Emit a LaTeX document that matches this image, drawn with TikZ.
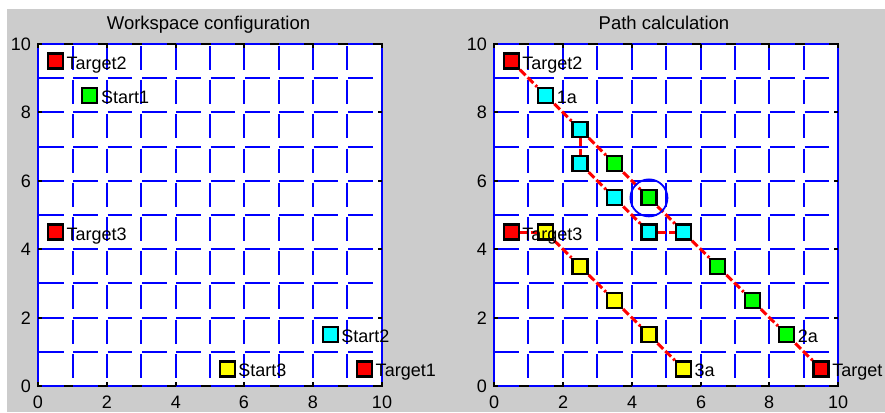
\documentclass[tikz,border=0pt]{standalone}
\usepackage{fontspec}
\setmainfont{Liberation Sans}
\definecolor{figgray}{RGB}{204,204,204}
\definecolor{mred}{RGB}{255,0,0}
\definecolor{mgreen}{RGB}{0,255,0}
\definecolor{mcyan}{RGB}{0,255,255}
\definecolor{myellow}{RGB}{255,255,0}
\definecolor{mblue}{RGB}{0,0,255}
\tikzset{
  gridline/.style={mblue, line width=2pt},
  boxline/.style={black, line width=2pt},
  ticklab/.style={inner sep=0pt, font=\fontsize{18}{20}\selectfont},
  mk/.style={rectangle, draw=black, line width=2.2pt, minimum size=15pt, inner sep=0pt},
  lab/.style={inner sep=0pt, anchor=base west, font=\fontsize{18}{20}\selectfont},
  route/.style={mred, line width=3pt, dash pattern=on 8pt off 3pt},
  ttl/.style={inner sep=0pt, anchor=base, font=\fontsize{18.5}{20}\selectfont},
}
% #1 prefix, #2 x0, #3 y0, #4 x unit, #5 y unit (all in pt, picture units)
\newcommand\plotframe[5]{%
  \pgfmathsetmacro\fxa{round(#2)}\pgfmathsetmacro\fxb{round(#2+10*#4)}%
  \pgfmathsetmacro\fya{round(#3)}\pgfmathsetmacro\fyb{round(#3+10*#5)}%
  \fill[white] (\fxa,\fya) rectangle (\fxb,\fyb);
  \draw[boxline] (\fxa,\fya) rectangle (\fxb,\fyb);
  \foreach \j in {0,...,10}{
    \pgfmathsetmacro\gy{round(#3+#5*\j)}
    \foreach \i in {0,...,9}{
      \draw[gridline] ({#2+#4*(\i+0.02)},\gy) -- ({#2+#4*(\i+0.74)},\gy);
    }
  }
  \foreach \i in {1,...,9}{
    \pgfmathsetmacro\gx{round(#2+#4*\i)}
    \foreach \j in {0,...,9}{
      \draw[gridline] (\gx,{#3+#5*(\j+0.94)}) -- (\gx,{#3+#5*(\j+0.24)});
    }
  }
  \draw[gridline] (\fxa,\fya) -- (\fxa,\fyb) (\fxb,\fya) -- (\fxb,\fyb);
  \foreach \v in {0,2,...,10}{
    \pgfmathsetmacro\gx{round(#2+#4*\v)}
    \pgfmathsetmacro\gy{round(#3+#5*\v)}
    \draw[boxline] (\fxa,\gy) -- ++(4,0);
    \draw[boxline] (\fxb,\gy) -- ++(-4,0);
    \draw[boxline] (\gx,\fya) -- ++(0,4);
    \draw[boxline] (\gx,\fyb) -- ++(0,-4);
    \node[ticklab, anchor=east] (#1y\v) at (\fxa-7,\gy) {\v};
    \node[ticklab, anchor=north] (#1x\v) at (\gx,\fya-9.7) {\v};
  }
}
\begin{document}
\begin{tikzpicture}[x=1pt,y=1pt]
\useasboundingbox (0,0) rectangle (885,412);
\fill[figgray] (7,0) rectangle (885,403);
\node[ttl] (title1) at (208.5,382.7) {Workspace configuration};
\node[ttl] (title2) at (664,382.7) {Path calculation};
% ---------------- left plot
\plotframe{L}{38.3}{26}{34.34}{34.2}
\begin{scope}[shift={(38.3pt,26pt)}, x=34.34pt, y=34.2pt]
  \node[mk, fill=mred]    (Lt2) at (0.5,9.5) {};
  \node[mk, fill=mgreen]  (Ls1) at (1.5,8.5) {};
  \node[mk, fill=mred]    (Lt3) at (0.5,4.5) {};
  \node[mk, fill=mcyan]   (Ls2) at (8.5,1.5) {};
  \node[mk, fill=myellow] (Ls3) at (5.5,0.5) {};
  \node[mk, fill=mred]    (Lt1) at (9.5,0.5) {};
  \node[lab] (lLt2) at ([xshift=11pt,yshift=-8pt]Lt2.center) {Target2};
  \node[lab] (lLs1) at ([xshift=11pt,yshift=-8pt]Ls1.center) {Start1};
  \node[lab] (lLt3) at ([xshift=11pt,yshift=-8pt]Lt3.center) {Target3};
  \node[lab] (lLs2) at ([xshift=11pt,yshift=-8pt]Ls2.center) {Start2};
  \node[lab] (lLs3) at ([xshift=11pt,yshift=-8pt]Ls3.center) {Start3};
  \node[lab] (lLt1) at ([xshift=11pt,yshift=-8pt]Lt1.center) {Target1};
\end{scope}
% ---------------- right plot
\plotframe{R}{494}{26}{34.43}{34.2}
\begin{scope}[shift={(494pt,26pt)}, x=34.43pt, y=34.2pt]
  \node[mk, fill=mred]    (Rt2) at (0.5,9.5) {};
  \node[mk, fill=mcyan]   (c1)  at (1.5,8.5) {};
  \node[mk, fill=mcyan]   (c2)  at (2.5,7.5) {};
  \node[mk, fill=mcyan]   (c3)  at (2.5,6.5) {};
  \node[mk, fill=mgreen]  (g1)  at (3.5,6.5) {};
  \node[mk, fill=mcyan]   (c4)  at (3.5,5.5) {};
  \node[mk, fill=mgreen]  (g2)  at (4.5,5.5) {};
  \node[mk, fill=mcyan]   (c6)  at (4.5,4.5) {};
  \node[mk, fill=mcyan]   (c5)  at (5.5,4.5) {};
  \node[mk, fill=mgreen]  (g3)  at (6.5,3.5) {};
  \node[mk, fill=mgreen]  (g4)  at (7.5,2.5) {};
  \node[mk, fill=mgreen]  (g5)  at (8.5,1.5) {};
  \node[mk, fill=mred]    (Rt1) at (9.5,0.5) {};
  \node[mk, fill=mred]    (Rt3) at (0.5,4.5) {};
  \node[mk, fill=myellow] (y1)  at (1.5,4.5) {};
  \node[mk, fill=myellow] (y2)  at (2.5,3.5) {};
  \node[mk, fill=myellow] (y3)  at (3.5,2.5) {};
  \node[mk, fill=myellow] (y4)  at (4.5,1.5) {};
  \node[mk, fill=myellow] (y5)  at (5.5,0.5) {};
  \draw[route] (Rt2) -- (c1);
  \draw[route] (c1) -- (c2);
  \draw[route] (c2) -- (g1);
  \draw[route] (g1) -- (g2);
  \draw[route] (g2) -- (c5);
  \draw[route] (c5) -- (g3);
  \draw[route] (g3) -- (g4);
  \draw[route] (g4) -- (g5);
  \draw[route] (g5) -- (Rt1);
  \draw[route] (c2) -- (c3);
  \draw[route] (c3) -- (c4);
  \draw[route] (c4) -- (c6);
  \draw[route] (c6) -- (c5);
  \draw[route] (Rt3) -- (y1);
  \draw[route] (y1) -- (y2);
  \draw[route] (y2) -- (y3);
  \draw[route] (y3) -- (y4);
  \draw[route] (y4) -- (y5);
  \node[circle, draw=mblue, line width=1.8pt, minimum size=37pt, inner sep=0pt] (sel) at (g2) {};
  \node[lab] (lRt2) at ([xshift=11pt,yshift=-8pt]Rt2.center) {Target2};
  \node[lab] (lc1)  at ([xshift=11pt,yshift=-8pt]c1.center) {1a};
  \node[lab] (lRt3) at ([xshift=11pt,yshift=-8pt]Rt3.center) {Target3};
  \node[lab] (lg5)  at ([xshift=11pt,yshift=-8pt]g5.center) {2a};
  \node[lab] (ly5)  at ([xshift=11pt,yshift=-8pt]y5.center) {3a};
  \node[lab] (lRt1) at ([xshift=11pt,yshift=-8pt]Rt1.center) {Target};
\end{scope}
\end{tikzpicture}
\end{document}
